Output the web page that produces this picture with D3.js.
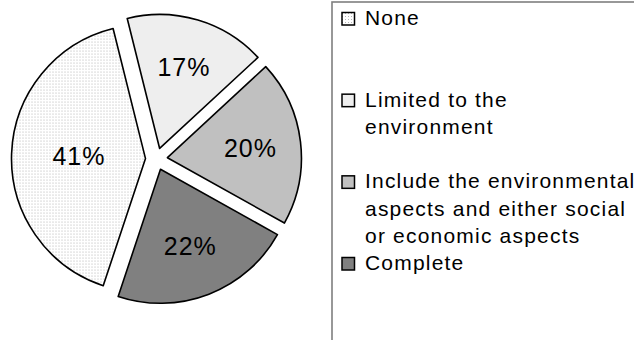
<!DOCTYPE html>
<html>
<head>
<meta charset="utf-8">
<script src="https://cdn.jsdelivr.net/npm/d3@7"></script>
<style>
  html, body { margin: 0; padding: 0; background: #fff; }
  svg text { font-family: "Liberation Sans", Arimo, Arial, Helvetica, sans-serif; }
</style>
</head>
<body>
<svg id="chart" width="634" height="340"></svg>
<script>
// Share of respondents by scope of the assessment
const categories = [
  "None",
  "Limited to the environment",
  "Include the environmental aspects and either social or economic aspects",
  "Complete"
];
const shares = [41, 17, 20, 22];
const fills = ["url(#dots)", "#eeeeee", "#c0c0c0", "#808080"];

const FONT = "'Liberation Sans', Arimo, Arial, Helvetica, sans-serif";
const svg = d3.select("#chart");
const W = 634, H = 340;

// light dotted fill used for the first category
const defs = svg.append("defs");
const pat = defs.append("pattern")
  .attr("id", "dots").attr("patternUnits", "userSpaceOnUse")
  .attr("width", 3).attr("height", 3);
pat.append("rect").attr("width", 3).attr("height", 3).attr("fill", "#ffffff");
pat.append("rect").attr("width", 1).attr("height", 1).attr("fill", "#b4b4b4");

// exploded pie
const cx = 156.5, cy = 159, R = 134, explode = 11;
const start = -161.6 * Math.PI / 180;
const pie = d3.pie().sort(null).value(d => d)
  .startAngle(start).endAngle(start + 2 * Math.PI);
const arc = d3.arc().innerRadius(0).outerRadius(R);
const arcs = pie(shares);

const g = svg.append("g").attr("transform", `translate(${cx},${cy})`);
const slice = g.selectAll("g.slice").data(arcs).join("g")
  .attr("class", "slice")
  .attr("transform", d => {
    const a = (d.startAngle + d.endAngle) / 2;
    return `translate(${explode * Math.sin(a)},${-explode * Math.cos(a)})`;
  });

slice.append("path")
  .attr("d", arc)
  .attr("fill", (d, i) => fills[i])
  .attr("stroke", "#000")
  .attr("stroke-width", 1.6)
  .attr("stroke-linejoin", "round");

// labels at the area centroid of each sector
const fmt = d3.format(".0%");
const total = d3.sum(shares);
slice.append("text")
  .attr("transform", d => {
    const a = (d.startAngle + d.endAngle) / 2;
    const th = d.endAngle - d.startAngle;
    const r = 4 * R * Math.sin(th / 2) / (3 * th);
    return `translate(${r * Math.sin(a)},${-r * Math.cos(a)})`;
  })
  .attr("text-anchor", "middle")
  .attr("dy", "0.36em")
  .attr("font-family", FONT)
  .attr("font-size", 25)
  .attr("letter-spacing", 1)
  .attr("fill", "#000")
  .text(d => fmt(d.data / total));

// legend
const legendX = 332;
svg.append("rect")
  .attr("x", legendX).attr("y", 2)
  .attr("width", W - legendX + 10).attr("height", H)
  .attr("fill", "#fff").attr("stroke", "#7f7f7f").attr("stroke-width", 1.6);

const rowY = d3.scalePoint().domain(d3.range(categories.length)).range([25, 270]);
const lineH = 27.5;
const textX = 365, maxW = 276;

const item = svg.selectAll("g.legend").data(categories).join("g")
  .attr("class", "legend")
  .attr("transform", (d, i) => `translate(0,${rowY(i)})`);

item.append("rect")
  .attr("x", 342).attr("y", -12.5)
  .attr("width", 12.5).attr("height", 12.5)
  .attr("fill", (d, i) => fills[i])
  .attr("stroke", "#000").attr("stroke-width", 1.5);

// wrap each legend label into lines that fit the legend width
item.append("text")
  .attr("x", textX).attr("y", 0)
  .attr("font-family", FONT)
  .attr("font-size", 21)
  .attr("letter-spacing", 1.2)
  .attr("fill", "#000")
  .each(function (d) {
    const t = d3.select(this);
    const words = d.split(" ");
    let line = [];
    let ts = t.append("tspan").attr("x", textX).attr("dy", 0);
    words.forEach(w => {
      line.push(w);
      ts.text(line.join(" "));
      if (ts.node().getComputedTextLength() > maxW && line.length > 1) {
        line.pop();
        ts.text(line.join(" "));
        line = [w];
        ts = t.append("tspan").attr("x", textX).attr("dy", lineH).text(w);
      }
    });
  });
</script>
</body>
</html>
